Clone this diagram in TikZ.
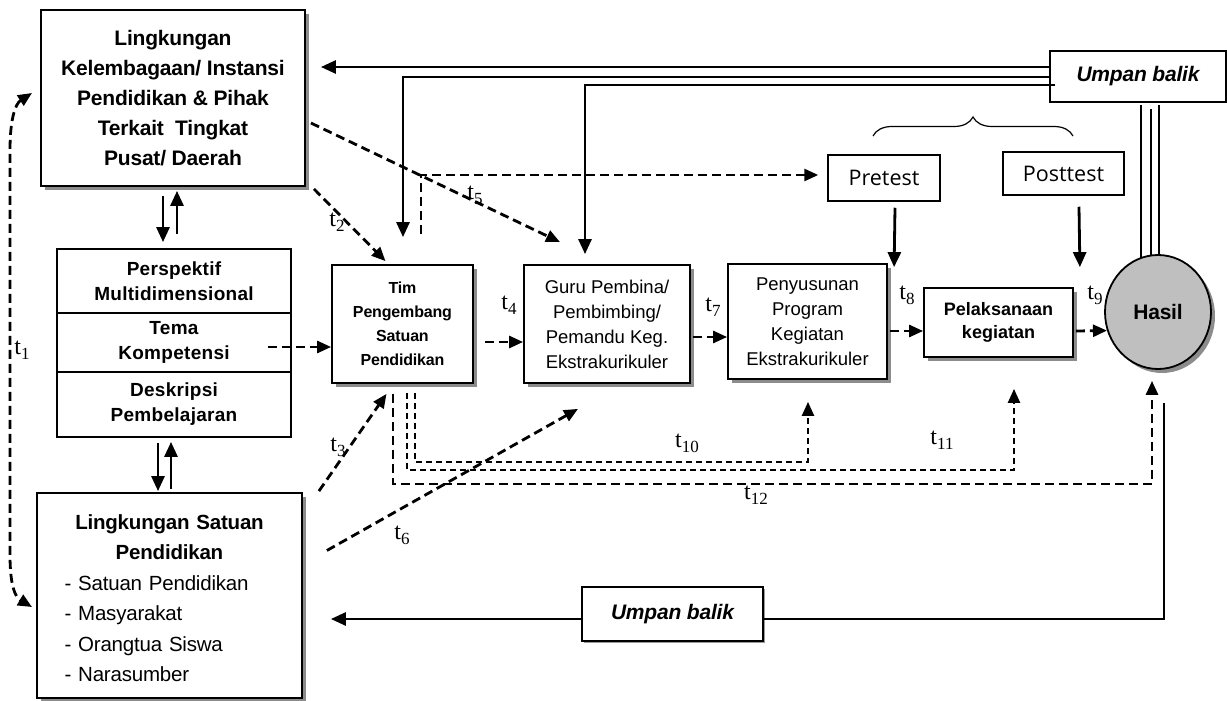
\documentclass[tikz,border=0pt]{standalone}
\usepackage{fontspec}
\setmainfont{Liberation Sans}
\newfontfamily\serf{Liberation Serif}
\newfontfamily\cnd[LetterSpace=-1]{Liberation Sans}
\newfontfamily\wde[LetterSpace=1.5]{Liberation Sans}
\newfontfamily\osn{Open Sans}
\usetikzlibrary{arrows.meta,shapes.geometric,shadows,calc,decorations.pathreplacing}
\newcommand\tsub[1]{t\raisebox{-5pt}{\fontsize{17}{17}\selectfont #1}}
\begin{document}
\begin{tikzpicture}[x=1pt,y=-1pt,
 box/.style={draw, line width=1.8pt, inner sep=0pt, align=center, fill=white},
 shd/.style={drop shadow={shadow xshift=4pt,shadow yshift=-4pt,fill=black!45,opacity=1}},
 sline/.style={line width=2.8pt},
 thinl/.style={line width=2.2pt},
 sarr/.style={line width=2.8pt,-{Triangle[length=15pt,width=13pt]}},
 darr/.style={line width=2.8pt,dash pattern=on 9pt off 5pt,-{Triangle[length=14pt,width=12pt]}},
 darrs/.style={line width=2.3pt,dash pattern=on 6pt off 4pt,-{Triangle[length=14pt,width=12pt]}},
 dboth/.style={line width=2.8pt,dash pattern=on 9pt off 5pt,{Triangle[length=14pt,width=12pt]}-{Triangle[length=14pt,width=12pt]}},
 tl/.style={font=\serf\fontsize{24}{24}\selectfont, inner sep=0pt},
]
\useasboundingbox (0,0) rectangle (1227,701);

% ---------- nodes ----------
\node[box,shd,minimum width=264pt,minimum height=176pt,font=\cnd\bfseries\fontsize{21}{30}\selectfont] (A) at (173,98)
  {Lingkungan\\Kelembagaan/ Instansi\\Pendidikan \& Pihak\\Terkait\ \ Tingkat\\Pusat/ Daerah};

\node[box,minimum width=234pt,minimum height=64pt,font=\wde\bfseries\fontsize{19}{25}\selectfont] (B1) at (174,281) {Perspektif\\Multidimensional};
\node[box,minimum width=234pt,minimum height=59pt,font=\wde\bfseries\fontsize{19}{25}\selectfont] (B2) at (174,342.5) {Tema\\Kompetensi};
\node[box,minimum width=234pt,minimum height=65pt,font=\wde\bfseries\fontsize{19}{25}\selectfont] (B3) at (174,404.5) {Deskripsi\\Pembelajaran};

\node[box,shd,minimum width=265pt,minimum height=205pt,text width=210pt,align=left,font=\cnd\fontsize{20.5}{30.5}\selectfont] (D) at (169.5,595.5)
  {\rule{0pt}{20pt}{\centering\bfseries Lingkungan Satuan\\Pendidikan\par}- Satuan Pendidikan\\- Masyarakat\\- Orangtua Siswa\\- Narasumber};

\node[box,shd,minimum width=141pt,minimum height=118pt,font=\cnd\bfseries\fontsize{16}{24}\selectfont] (C) at (402.5,324)
  {Tim\\Pengembang\\Satuan\\Pendidikan};
\node[box,shd,minimum width=166pt,minimum height=118pt,font=\fontsize{18.5}{25}\selectfont] (E) at (607,324)
  {Guru Pembina/\\Pembimbing/\\Pemandu Keg.\\Ekstrakurikuler};
\node[box,shd,minimum width=159pt,minimum height=115pt,font=\fontsize{18.5}{25}\selectfont] (F) at (807.5,321.5)
  {Penyusunan\\Program\\Kegiatan\\Ekstrakurikuler};
\node[box,shd,minimum width=149pt,minimum height=69pt,font=\bfseries\fontsize{18}{23}\selectfont] (G) at (998.5,322.5)
  {Pelaksanaan\\kegiatan};

\node[box,line width=1.5pt,minimum width=112pt,minimum height=46pt,font=\osn\fontsize{21.5}{21.5}\selectfont] (Pre) at (884,178) {Pretest};
\node[box,line width=1.5pt,minimum width=121pt,minimum height=43pt,font=\osn\fontsize{21.5}{21.5}\selectfont] (Post) at (1063.5,173.5) {Posttest};

\node[box,minimum width=176pt,minimum height=51pt,font=\cnd\bfseries\itshape\fontsize{21}{21}\selectfont] (UB1) at (1138,76.5) {Umpan balik};
\node[box,drop shadow={shadow xshift=2pt,shadow yshift=-2pt,fill=black!40,opacity=1},minimum width=181pt,minimum height=54pt,font=\cnd\bfseries\itshape\fontsize{21}{21}\selectfont] (UB2) at (672.5,614) {Umpan balik};

% three lines from top feedback box to result
\draw[thinl] ($(UB1.south)+(3,2)$) coordinate (v1) -- ++(0,155);
\draw[thinl] ($(UB1.south)+(13,6)$) coordinate (v2) -- ++(0,150);
\draw[thinl] ($(UB1.south)+(21,2)$) coordinate (v3) -- ++(0,155);

\node[ellipse,draw,line width=1.8pt,fill=black!25,shd,minimum width=106pt,minimum height=114pt,inner sep=0pt,font=\cnd\bfseries\fontsize{21}{21}\selectfont] (H) at (1158,312) {Hasil};

% ---------- brace ----------
\coordinate (br1) at (873,136);
\coordinate (br2) at (1073,136);
\draw[line width=1.2pt,decorate,decoration={brace,amplitude=19pt}] (br1) -- (br2);

% ---------- solid connectors ----------
\draw[sarr] ($(A.south)+(-10,9)$) -- ($(B1.north)+(-11,-6)$);
\draw[sarr] ($(B1.north)+(3,-14)$) -- ($(A.south)+(4,4)$);
\draw[sarr] ($(B3.south)+(-16,5)$) -- ($(D.north)+(-11.5,-1)$);
\draw[sarr] ($(D.north)+(1.5,-3)$) -- ($(B3.south)+(-3,4)$);

\draw[sarr] ($(UB1.west)+(0,-9.5)$) -- ($(A.east)+(15,-31)$);
\draw[sarr] ($(UB1.west)+(2,0.5)$) -| ($(C.north)+(0.5,-27)$);
\draw[sarr] ($(UB1.west)+(6,8.5)$) -| ($(E.north)+(-22,-10)$);

\draw[sarr] ($(Pre.south)+(11,6)$) coordinate (p1) -- ($(G.north west)+(-29,-20)$);
\draw[sarr] ($(Post.south)+(15.5,11)$) coordinate (p2) -- ($(G.north east)+(6,-20)$);

\draw[sline] ($(H.south)+(6,33)$) |- ($(UB2.east)+(0,5)$);
\draw[sarr] ($(UB2.west)+(0,5)$) -- ($(D.east)+(28,23.5)$);

% ---------- dashed connectors ----------
\coordinate (t1a) at (32,93);
\coordinate (t1b) at (32,607);
\draw[dboth] (t1a) .. controls (15,104) and (10,120) .. (10,150) -- (10,555) .. controls (10,585) and (15,597) .. (t1b);

\draw[darr] ($(B2.east)+(-24,4.5)$) coordinate (s1) -- (s1 -| C.west);
\draw[darr] ($(C.east)+(11,18)$) coordinate (s2) -- (s2 -| E.west);
\draw[darr] ($(E.east)+(2,13)$) coordinate (s3) -- (s3 -| F.west);
\draw[darr] ($(F.east)+(2,9.5)$) coordinate (s4) -- (s4 -| G.west);
\draw[darr] ($(G.east)+(2,8.5)$) -- (H.200);

\draw[darr] ($(A.south east)+(8,2)$) -- ($(C.north)+(-17,-3)$);
\draw[darr] ($(A.east)+(5,25)$) -- ($(E.north)+(-47,-22)$);
\draw[darr] ($(C.north)+(18.5,-30)$) |- ($(Pre.west)+(-9,-3)$);
\draw[darr] ($(D.north east)+(16,-1)$) -- ($(C.south)+(-16,10)$);
\draw[darr] ($(D.east)+(24,-45)$) -- ($(E.south)+(-29,25)$);

\draw[darrs] ($(C.south)+(12.5,9)$) |- ($(F.south)+(0.5,82)$) -- ($(F.south)+(0.5,22)$);
\draw[darrs] ($(C.south)+(4.5,9)$) |- ($(G.south)+(15.5,112)$) -- ($(G.south)+(15.5,31)$);
\draw[darr] ($(C.south)+(-9.5,10)$) |- ($(H.south)+(-6,114)$) -- ($(H.south)+(-6,11)$);

% ---------- labels ----------
\node[tl] (l1) at (22,350) {\tsub{1}};
\node[tl] (l2) at (337,222) {\tsub{2}};
\node[tl] (l3) at (338,447) {\tsub{3}};
\node[tl] (l4) at (509,305) {\tsub{4}};
\node[tl] (l5) at (475,195) {\tsub{5}};
\node[tl] (l6) at (402,535) {\tsub{6}};
\node[tl] (l7) at (713,307) {\tsub{7}};
\node[tl] (l8) at (907,295) {\tsub{8}};
\node[tl] (l9) at (1095,295) {\tsub{9}};
\node[tl] (l10) at (687,443) {\tsub{10}};
\node[tl] (l11) at (942,440) {\tsub{11}};
\node[tl] (l12) at (756,495) {\tsub{12}};
\end{tikzpicture}
\end{document}
